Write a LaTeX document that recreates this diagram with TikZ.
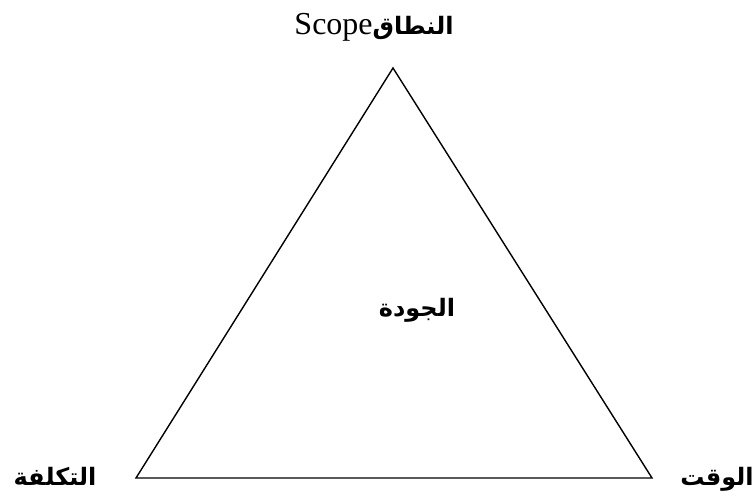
\documentclass[tikz,border=0pt]{standalone}
\usepackage{fontspec}
\setmainfont{Liberation Serif}
\newfontfamily\arabicfont[Script=Arabic]{DejaVu Sans}
\TeXXeTstate=1
\begin{document}
\begin{tikzpicture}[x=1pt,y=1pt,
  lbl/.style={inner sep=0pt, anchor=base},
  ar/.style={lbl, font=\arabicfont\bfseries\fontsize{24}{28}\selectfont}]
\useasboundingbox (0,0) rectangle (755,502);
\coordinate (T) at (393,434);
\coordinate (L) at (136,24);
\coordinate (R) at (652,24);
\draw[line width=1.4pt, line join=miter] (T) -- (L) -- (R) -- cycle;
\node[lbl] (scope) at (374,467) {\fontsize{32}{36}\selectfont\beginR{\arabicfont\bfseries\fontsize{24}{28}\selectfont النطاق}\beginL Scope\endL\endR};
\node[ar] (cost) at (55,16) {\beginR التكلفة\endR};
\node[ar] (time) at (717,16) {\beginR الوقت\endR};
\node[ar] (quality) at (417,185) {\beginR الجودة\endR};
\end{tikzpicture}
\end{document}
